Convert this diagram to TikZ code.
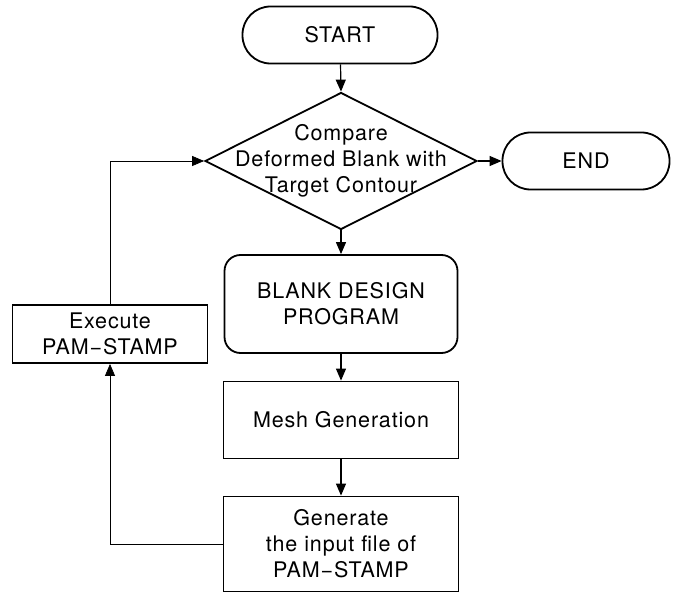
\documentclass[tikz,border=0pt]{standalone}
\usepackage{fontspec}
\setmainfont[LetterSpace=4]{TeX Gyre Heros}
\usetikzlibrary{shapes.geometric,arrows.meta}

\begin{document}
\begin{tikzpicture}[x=1pt,y=-1pt,
  every node/.style={font=\fontsize{21.5}{26}\selectfont, align=center, inner sep=0pt},
  thick box/.style={draw, line width=1.8pt},
  terminal/.style={thick box, rounded corners=28pt, minimum height=57pt},
  process/.style={thick box, minimum width=235pt},
  decision/.style={thick box, diamond, minimum width=272pt, minimum height=137pt},
  flow/.style={line width=1.2pt, -{Triangle[length=12pt,width=10pt]}},
  loop/.style={line width=0.7pt, -{Triangle[length=12pt,width=10pt]}}]

  \useasboundingbox (0,0) rectangle (674,593);

  % main column
  \node[terminal, minimum width=195pt] (start) at (340,35) {START};
  \node[decision, label={[align=center]center:Compare\\Deformed Blank with\\Target Contour}] (cmp) at (341,161) {};
  \node[terminal, minimum width=167pt] (end) at (586,161) {END};
  \node[thick box, rounded corners=16pt, minimum width=233pt, minimum height=98pt] (blank) at (341,304) {BLANK DESIGN\\PROGRAM};
  \node[process, minimum height=77pt] (mesh) at (341,420) {Mesh Generation};
  \node[process, minimum height=95pt] (gen) at (341,544) {Generate\\the input file of\\PAM−STAMP};

  % feedback branch
  \node[thick box, minimum width=195pt, minimum height=58pt] (exec) at (110,334) {Execute\\PAM−STAMP};

  \draw[flow] (start) -- (cmp.north);
  \draw[flow] (cmp.east) -- (end);
  \draw[flow] (cmp.south) -- (blank);
  \draw[flow] (blank) -- (mesh);
  \draw[flow] (mesh) -- (gen);
  \draw[loop] (gen.west) -| (exec.south);
  \draw[loop] (exec.north) |- (cmp.west);
\end{tikzpicture}
\end{document}
